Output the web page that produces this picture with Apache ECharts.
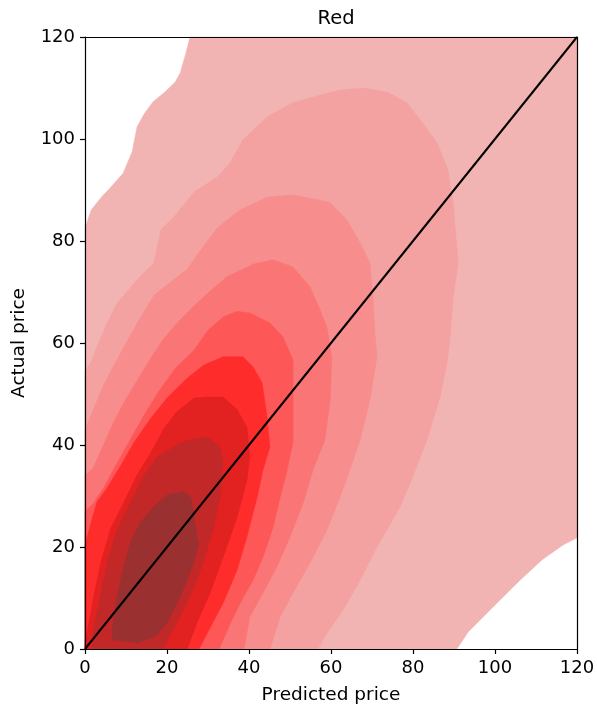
<!DOCTYPE html>
<html><head><meta charset="utf-8">
<script src="https://cdn.jsdelivr.net/npm/echarts@6/dist/echarts.min.js"></script>
<style>html,body{margin:0;padding:0;background:#fff}#c{width:597px;height:706px}</style>
</head><body><div id="c"></div>
<script>
const xTicks = [0, 20, 40, 60, 80, 100, 120];
const yTicks = [0, 20, 40, 60, 80, 100, 120];
const diagonal = [[0, 0], [120, 120]];

// KDE contour levels (outer -> inner), polygons in data units (predicted, actual)
const level1 = [[0,0],[90.7,0],[92.2,1.8],[93.4,3.3],[100.5,9],[106.1,13.5],[111.5,17.5],[116.6,20.4],[120,21.8],[120,120],[25.6,120],[24.5,116.5],[23.2,112.9],[22,111.2],[19.5,109.2],[16.6,107.3],[14.5,105],[12.7,102.4],[11.5,97.5],[9.3,93.3],[6,90.3],[4.1,88.7],[1.5,86.1],[0,82.5]];
const level2 = [[0,0],[56.8,0],[59,3.1],[62.9,7.6],[67.1,13.5],[71.2,20],[76.8,27.8],[79.3,32.5],[83.4,41],[86.6,49.4],[88.3,56.1],[89,60.6],[89.8,69],[91,75.7],[89.8,87.5],[88.5,93.9],[85.9,99.2],[82.4,103.1],[78.5,107.1],[73.7,109.2],[67.8,110],[62.2,109.6],[57.3,108.6],[50.7,107.1],[44.4,104.3],[38.5,99.8],[35.4,95.3],[32.2,92.5],[26.6,89.6],[21.7,84.7],[18.5,82.2],[16.8,75.7],[12.7,72.4],[7.8,67.8],[5.4,63.9],[2.9,59.2],[1.5,56.3],[0,54.5]];
const level3 = [[0,0],[45.1,0],[47.6,6.3],[50.7,11],[54.9,16.9],[59,23.3],[62.2,29.8],[64.6,35.1],[67.1,41],[69.5,48.8],[71.2,57.3],[70.7,62],[70.2,69],[69.5,75.7],[67.1,79.6],[63.9,84.1],[59.8,87.5],[57.3,88],[50.7,89],[44.4,88.6],[37.8,86.1],[32.2,82.5],[28,78],[25,74.5],[21,72],[17,69.5],[13,64.3],[10,60],[7.1,55.7],[4.6,51.8],[2.2,47.3],[0,43]];
const level4 = [[0,0],[38.8,0],[40.2,6.3],[43.4,11],[46.8,16.1],[50,22],[53.2,28.6],[55.6,35.1],[58.5,41],[59.8,48.8],[60.2,57.3],[59,63.1],[57.3,66.5],[54.9,71],[50.7,74.9],[45.9,76.3],[41.2,75.5],[34.6,73],[30,69.8],[26,66.8],[22,63.5],[19,60.6],[16,57],[13,53],[10,49],[7,44.5],[4.5,40],[2,35.5],[0,34]];
const level5 = [[0,0],[32.7,0],[36,6],[38.5,10],[41,13.5],[43.4,18],[45.9,23.9],[47.6,29.8],[49.3,35.1],[50.7,40.4],[50.7,48.8],[50.7,56.7],[48.3,61.2],[45.1,63.9],[40.2,65.9],[37,66.2],[33.7,65.1],[30,62.5],[26.6,58.6],[22,55],[18,50.5],[14.5,46],[11,41],[7.5,36],[4.5,31.5],[2,28.5],[0,27]];
const level6 = [[0,0],[27.8,0],[33.7,9],[37.1,15.5],[39.5,22],[42,29.8],[43.4,35.1],[45.1,39.6],[44.4,45.5],[43.2,52.2],[41,55.3],[38.5,57.3],[33.7,57.3],[29,55.7],[24.9,53.1],[20,49.2],[16.1,45.3],[12,40.6],[8.8,36.1],[5.4,31.6],[2.9,28.8],[1.5,24.9],[0,20.4]];
const level7 = [[0,0],[24.9,0],[27.3,5.1],[30.5,11],[33.7,18],[37.1,25.9],[39.5,33.1],[40.2,37.6],[39.5,43.5],[37.1,46.9],[33.7,49.4],[29.8,49.4],[26.6,49.2],[22.4,46.5],[19.3,43.3],[16.1,38.6],[12.7,34.1],[9.5,28.8],[6.3,23.7],[3.9,17.1],[2.2,10.6],[1,5.3],[0,1.4]];
const level8 = [[1.7,0],[19,0],[23.2,6.3],[26.3,11.6],[28.8,16.9],[31.2,23.3],[32.9,29.8],[33.7,36.5],[32.9,39.6],[29.8,41.6],[25.6,41],[23.2,40.4],[17.6,37.6],[14.1,33.7],[11,28.6],[7.8,23.3],[5.4,16.9],[3.7,10.2],[2,3.7]];
const level9 = [[20,30.2],[24.1,30.8],[25.9,29.6],[27.3,22],[27.8,20.8],[26.6,17.1],[23.2,10.2],[20,5.1],[17.1,2.4],[12.7,1.2],[6.8,1.8],[6.6,3.7],[7.8,10.2],[8.8,13.9],[11,20.8],[13.4,24.7],[16.6,27.8]];

const levels = [level1, level2, level3, level4, level5, level6, level7, level8, level9];
const levelColors = ['#f2b3b3','#f4a1a1','#f78d8d','#fa7575','#fd5757','#ff2c2c','#e22121','#c22828','#9b3030'];

const chart = echarts.init(document.getElementById('c'), null, {renderer: 'canvas'});
const FONT = 'DejaVu Sans';

const areaSeries = levels.map((poly, i) => ({
  type: 'custom',
  coordinateSystem: 'cartesian2d',
  silent: true,
  z: 2 + i * 0.01,
  data: poly,
  encode: {x: 0, y: 1},
  renderItem: function (params, api) {
    if (params.dataIndex !== 0) return null;
    const pts = poly.map(p => api.coord(p));
    return {type: 'polygon', shape: {points: pts}, style: {fill: levelColors[i], stroke: levelColors[i], lineWidth: 0.5}};
  }
}));

const axisCommon = {
  type: 'value', min: 0, max: 120, interval: 20, z: 10,
  axisLine: {show: true, onZero: false, lineStyle: {color: '#000', width: 1.2}},
  axisTick: {show: true, length: 5, lineStyle: {color: '#000', width: 1.2}},
  splitLine: {show: false}
};

chart.setOption({
  animation: false,
  backgroundColor: '#fff',
  title: {text: 'Red', left: 331, top: 4, textAlign: 'center',
    textStyle: {fontFamily: FONT, fontSize: 19.5, fontWeight: 'normal', color: '#000'}},
  grid: {left: 85, right: 20, top: 37, bottom: 57, containLabel: false, outerBoundsMode: 'none'},
  xAxis: [
    Object.assign({}, axisCommon, {position: 'bottom', name: 'Predicted price', nameLocation: 'middle', nameGap: 37,
      nameTextStyle: {fontFamily: FONT, fontSize: 18.5, color: '#000'},
      axisLabel: {fontFamily: FONT, fontSize: 18, color: '#000', margin: 10,
        formatter: v => xTicks.includes(v) ? String(v) : ''}}),
    Object.assign({}, axisCommon, {position: 'top', axisTick: {show: false}, axisLabel: {show: false}})
  ],
  yAxis: [
    Object.assign({}, axisCommon, {position: 'left', name: 'Actual price', nameLocation: 'middle', nameGap: 56,
      nameTextStyle: {fontFamily: FONT, fontSize: 18.5, color: '#000'},
      axisLabel: {fontFamily: FONT, fontSize: 18, color: '#000', margin: 10,
        formatter: v => yTicks.includes(v) ? String(v) : ''}}),
    Object.assign({}, axisCommon, {position: 'right', axisTick: {show: false}, axisLabel: {show: false}})
  ],
  series: areaSeries.concat([{
    type: 'line', data: diagonal, symbol: 'none', silent: true, z: 5,
    lineStyle: {color: '#000', width: 2}
  }])
});
</script></body></html>
